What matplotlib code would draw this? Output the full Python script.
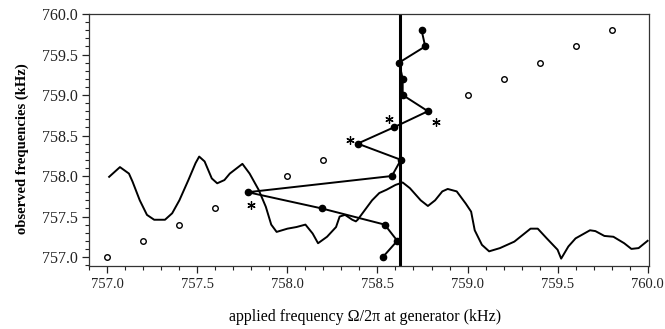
import matplotlib
matplotlib.use('Agg')
import matplotlib.pyplot as plt
import matplotlib.transforms as mtransforms
from matplotlib.ticker import MultipleLocator, FormatStrFormatter

plt.rcParams['font.family'] = ['Liberation Serif', 'DejaVu Serif']

# 背景曲线（频谱）
curve_x = [757.01, 757.07, 757.12, 757.14, 757.18, 757.22, 757.26, 757.32, 757.36, 757.40,
           757.45, 757.49, 757.51, 757.54, 757.58, 757.61, 757.65, 757.68, 757.75, 757.79,
           757.84, 757.88, 757.91, 757.94, 758.00, 758.05, 758.10, 758.14, 758.17, 758.22,
           758.27, 758.29, 758.32, 758.36, 758.38, 758.39, 758.43, 758.47, 758.51, 758.55,
           758.60, 758.64, 758.68, 758.74, 758.78, 758.82, 758.86, 758.89, 758.94, 758.99,
           759.02, 759.04, 759.08, 759.12, 759.18, 759.26, 759.35, 759.39, 759.44, 759.50,
           759.52, 759.56, 759.60, 759.68, 759.71, 759.76, 759.81, 759.87, 759.91, 759.95,
           760.00]
curve_y = [757.99, 758.11, 758.03, 757.93, 757.70, 757.52, 757.46, 757.46, 757.54, 757.70,
           757.95, 758.16, 758.24, 758.18, 757.97, 757.91, 757.95, 758.03, 758.15, 758.03,
           757.83, 757.62, 757.40, 757.31, 757.35, 757.37, 757.40, 757.29, 757.17, 757.25,
           757.37, 757.50, 757.52, 757.46, 757.44, 757.46, 757.58, 757.70, 757.79, 757.83,
           757.89, 757.92, 757.85, 757.70, 757.63, 757.70, 757.81, 757.84, 757.81, 757.66,
           757.56, 757.33, 757.15, 757.07, 757.11, 757.19, 757.35, 757.35, 757.23, 757.09,
           756.98, 757.13, 757.23, 757.33, 757.32, 757.26, 757.25, 757.17, 757.10, 757.11,
           757.20]

# 空心圆：观测 = 施加
open_x = [757.0, 757.2, 757.4, 757.6, 758.0, 758.2, 759.0, 759.2, 759.4, 759.6, 759.8]
open_y = [757.0, 757.2, 757.4, 757.6, 758.0, 758.2, 759.0, 759.2, 759.4, 759.6, 759.8]

# 实心点（按观测频率连线）
dot_x = [758.53, 758.61, 758.54, 758.19, 757.78, 758.58, 758.63, 758.39, 758.59, 758.78,
         758.64, 758.64, 758.62, 758.765, 758.745]
dot_y = [757.0, 757.2, 757.4, 757.6, 757.8, 758.0, 758.2, 758.4, 758.6, 758.8,
         759.0, 759.2, 759.4, 759.6, 759.8]

# 竖线位置
vline_x = 758.626

# 星号标记的点（索引）及像素偏移
star_idx = [4, 7, 8, 9]
star_off = [(3, -13), (-8, 4), (-5, 8), (8, -11)]

fig = plt.figure(figsize=(6.65, 3.29), dpi=100)
ax = fig.add_axes([0.1338, 0.1915, 0.8414, 0.7659])

ax.plot(curve_x, curve_y, color='black', lw=1.4)
ax.plot(open_x, open_y, 'o', ms=4, mfc='white', mec='black', mew=1.0, ls='none')
ax.plot(dot_x, dot_y, '-o', color='black', lw=1.4, ms=4.5)
ax.axvline(vline_x, color='black', lw=2.2)

for i, (dx, dy) in zip(star_idx, star_off):
    tr = mtransforms.offset_copy(ax.transData, fig=fig, x=dx, y=dy, units='dots')
    ax.plot(dot_x[i], dot_y[i], marker=(6, 2, 0), ms=6, mew=0.9, color='black', transform=tr)

ax.set_xlim(756.898, 760.005)
ax.set_ylim(756.889, 760.0)
ax.xaxis.set_major_locator(MultipleLocator(0.5))
ax.xaxis.set_minor_locator(MultipleLocator(0.1))
ax.yaxis.set_major_locator(MultipleLocator(0.5))
ax.yaxis.set_minor_locator(MultipleLocator(0.1))
ax.xaxis.set_major_formatter(FormatStrFormatter('%.1f'))
ax.yaxis.set_major_formatter(FormatStrFormatter('%.1f'))
ax.tick_params(which='major', direction='out', length=5, width=0.9, colors='#222222')
ax.tick_params(which='minor', direction='out', length=3, width=0.8, colors='#222222')
ax.tick_params(axis='x', which='major', labelsize=10.5)
ax.tick_params(axis='y', which='major', labelsize=11.5, pad=3)
for s in ax.spines.values():
    s.set_color('#333333')
    s.set_linewidth(0.9)

ax.set_xlabel('applied frequency Ω/2π at generator (kHz)', fontsize=11.5)
ax.set_ylabel('observed frequencies (kHz)', fontsize=10.5, fontweight='bold')
ax.xaxis.set_label_coords(0.493, -0.17)
ax.yaxis.set_label_coords(-0.108, 0.466)

fig.savefig('out.png', dpi=100)
